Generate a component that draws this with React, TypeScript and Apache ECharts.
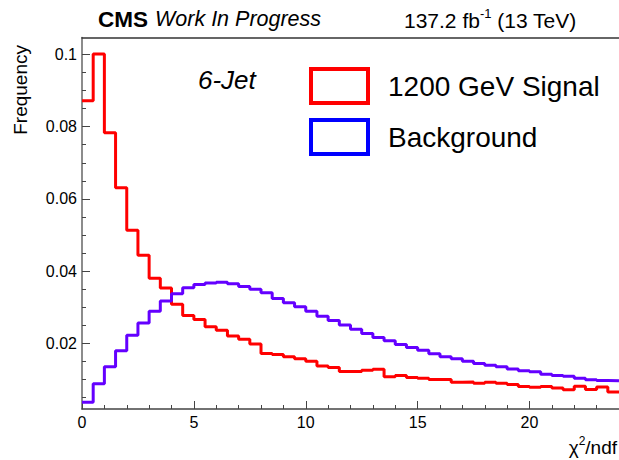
import React, { useEffect, useRef } from "react";
import * as echarts from "echarts";

// chi2/ndf histograms, 48 bins of 0.5 between 0 and 24
const BIN_WIDTH = 0.5;
const X_MIN = 0;
const X_MAX = 24;
const Y_MIN = 0.0018;
const Y_MAX = 0.1047;

const signal = [
  0.0872, 0.1001, 0.0783, 0.0631, 0.0513, 0.0444, 0.038, 0.0353, 0.0308, 0.0277, 0.0266, 0.0246,
  0.0236, 0.022, 0.0211, 0.0198, 0.0172, 0.0169, 0.0163, 0.0157, 0.015, 0.0137, 0.0133, 0.0122,
  0.0122, 0.0125, 0.0128, 0.0107, 0.0111, 0.0105, 0.0103, 0.01, 0.01, 0.0092, 0.0093, 0.0089,
  0.0092, 0.0089, 0.0086, 0.008, 0.0078, 0.008, 0.0076, 0.0071, 0.0081, 0.0072, 0.0079, 0.0065,
];

const background = [
  0.0037, 0.0088, 0.0135, 0.0179, 0.0222, 0.0256, 0.0289, 0.0317, 0.0337, 0.0354, 0.0363, 0.0367,
  0.0369, 0.0365, 0.0357, 0.035, 0.034, 0.0324, 0.0312, 0.0301, 0.0289, 0.0275, 0.0263, 0.0251,
  0.0239, 0.0227, 0.0216, 0.0207, 0.0197, 0.0188, 0.0181, 0.0171, 0.0163, 0.0157, 0.015, 0.0144,
  0.0139, 0.0135, 0.0129, 0.0124, 0.0121, 0.0114, 0.0111, 0.0109, 0.0103, 0.0099, 0.0097, 0.0096,
];

const xMajorTicks = [0, 5, 10, 15, 20];
const xMinorTicks = [1, 2, 3, 4, 6, 7, 8, 9, 11, 12, 13, 14, 16, 17, 18, 19, 21, 22, 23];
const yMajorTicks = [0.02, 0.04, 0.06, 0.08, 0.1];
const yMinorTicks = [
  0.005, 0.01, 0.015, 0.025, 0.03, 0.035, 0.045, 0.05, 0.055, 0.065, 0.07, 0.075, 0.085, 0.09,
  0.095,
];

const SIGNAL_NAME = "1200 GeV Signal";
const BACKGROUND_NAME = "Background";

const FONT = '"Liberation Sans", Arial, Helvetica, sans-serif';
const AXIS_COLOR = "#444";

// step points: left edge of each bin, plus the right edge of the last bin
function toSteps(values: number[]): number[][] {
  const pts = values.map((v, i) => [X_MIN + i * BIN_WIDTH, v]);
  pts.push([X_MIN + values.length * BIN_WIDTH, values[values.length - 1]]);
  return pts;
}

export default function App() {
  const ref = useRef<HTMLDivElement>(null);

  useEffect(() => {
    if (!ref.current) return;
    const chart = echarts.init(ref.current, undefined, { renderer: "svg" });

    const labelStyle = { fontFamily: FONT, fontSize: 16, color: "#000" };

    chart.setOption({
      animation: false,
      backgroundColor: "#fff",
      grid: { left: 82, right: 0, top: 37.5, bottom: 51, containLabel: false },
      xAxis: [
        {
          type: "value",
          min: X_MIN,
          max: X_MAX,
          position: "bottom",
          axisLine: { show: true, lineStyle: { color: AXIS_COLOR, width: 1.5 } },
          axisTick: {
            show: true,
            inside: true,
            length: 8,
            customValues: xMajorTicks,
            lineStyle: { color: AXIS_COLOR, width: 1 },
          },
          axisLabel: { show: true, margin: 5, customValues: xMajorTicks, ...labelStyle },
          splitLine: { show: false },
        },
        {
          type: "value",
          min: X_MIN,
          max: X_MAX,
          position: "bottom",
          axisLine: { show: false },
          axisTick: {
            show: true,
            inside: true,
            length: 4,
            customValues: xMinorTicks,
            lineStyle: { color: AXIS_COLOR, width: 1 },
          },
          axisLabel: { show: false },
          splitLine: { show: false },
        },
        {
          type: "value",
          min: X_MIN,
          max: X_MAX,
          position: "top",
          axisLine: { show: true, lineStyle: { color: "#333", width: 1.5 } },
          axisTick: { show: false },
          axisLabel: { show: false },
          splitLine: { show: false },
        },
      ],
      yAxis: [
        {
          type: "value",
          min: Y_MIN,
          max: Y_MAX,
          position: "left",
          axisLine: { show: true, lineStyle: { color: "#666", width: 1.5 } },
          axisTick: {
            show: true,
            inside: true,
            length: 8,
            customValues: yMajorTicks,
            lineStyle: { color: AXIS_COLOR, width: 1 },
          },
          axisLabel: { show: true, margin: 5, customValues: yMajorTicks, ...labelStyle },
          splitLine: { show: false },
        },
        {
          type: "value",
          min: Y_MIN,
          max: Y_MAX,
          position: "left",
          axisLine: { show: false },
          axisTick: {
            show: true,
            inside: true,
            length: 4,
            customValues: yMinorTicks,
            lineStyle: { color: AXIS_COLOR, width: 1 },
          },
          axisLabel: { show: false },
          splitLine: { show: false },
        },
      ],
      legend: {
        orient: "vertical",
        left: 304,
        top: 62,
        padding: 5,
        icon: "rect",
        itemWidth: 57,
        itemHeight: 34,
        itemGap: 13,
        selectedMode: false,
        textStyle: {
          fontFamily: FONT,
          fontSize: 28,
          color: "#000",
          lineHeight: 34,
          padding: [0, 0, 0, 15],
        },
        data: [
          {
            name: SIGNAL_NAME,
            itemStyle: { color: "rgba(255,255,255,0)", borderColor: "#ff0000", borderWidth: 4 },
          },
          {
            name: BACKGROUND_NAME,
            itemStyle: { color: "rgba(255,255,255,0)", borderColor: "#0000ff", borderWidth: 4 },
          },
        ],
      },
      graphic: [
        {
          type: "text",
          x: 98,
          y: 19,
          style: {
            text: "CMS",
            align: "left",
            verticalAlign: "middle",
            fill: "#000",
            fontFamily: FONT,
            fontSize: 22.5,
            fontWeight: "bold",
          },
        },
        {
          type: "text",
          x: 155,
          y: 19,
          style: {
            text: "Work In Progress",
            align: "left",
            verticalAlign: "middle",
            fill: "#000",
            fontFamily: FONT,
            fontSize: 21.5,
            fontStyle: "italic",
          },
        },
        {
          type: "text",
          x: 404,
          y: 19,
          style: {
            text: "{n|137.2 fb}{s|-1}{n| (13 TeV)}",
            align: "left",
            verticalAlign: "middle",
            fill: "#000",
            rich: {
              n: { fontFamily: FONT, fontSize: 21, fill: "#000", lineHeight: 24, verticalAlign: "bottom" },
              s: { fontFamily: FONT, fontSize: 13, fill: "#000", lineHeight: 24, verticalAlign: "top" },
            },
          },
        },
        {
          type: "text",
          x: 198,
          y: 80,
          style: {
            text: "6-Jet",
            align: "left",
            verticalAlign: "middle",
            fill: "#000",
            fontFamily: FONT,
            fontSize: 26,
            fontStyle: "italic",
          },
        },
        {
          type: "text",
          x: 20,
          y: 45,
          rotation: Math.PI / 2,
          style: {
            text: "Frequency",
            align: "right",
            verticalAlign: "middle",
            fill: "#000",
            fontFamily: FONT,
            fontSize: 19,
          },
        },
        {
          type: "text",
          x: 617,
          y: 446,
          style: {
            text: "{n|χ}{s|2}{n|/ndf}",
            align: "right",
            verticalAlign: "middle",
            fill: "#000",
            rich: {
              n: { fontFamily: FONT, fontSize: 19, fill: "#000", lineHeight: 22, verticalAlign: "bottom" },
              s: { fontFamily: FONT, fontSize: 12, fill: "#000", lineHeight: 22, verticalAlign: "top" },
            },
          },
        },
      ],
      series: [
        {
          name: SIGNAL_NAME,
          type: "line",
          xAxisIndex: 0,
          yAxisIndex: 0,
          step: "end",
          showSymbol: false,
          symbol: "none",
          data: toSteps(signal),
          lineStyle: { color: "#ff0000", width: 3 },
          itemStyle: { color: "#ff0000" },
          clip: true,
        },
        {
          name: BACKGROUND_NAME,
          type: "line",
          xAxisIndex: 0,
          yAxisIndex: 0,
          step: "end",
          showSymbol: false,
          symbol: "none",
          data: toSteps(background),
          lineStyle: { color: "#6400ff", width: 3 },
          itemStyle: { color: "#6400ff" },
          clip: true,
        },
      ],
    });

    return () => chart.dispose();
  }, []);

  return (
    <div
      ref={ref}
      style={{ position: "fixed", left: 0, top: 0, width: 619, height: 460, background: "#fff" }}
    />
  );
}
